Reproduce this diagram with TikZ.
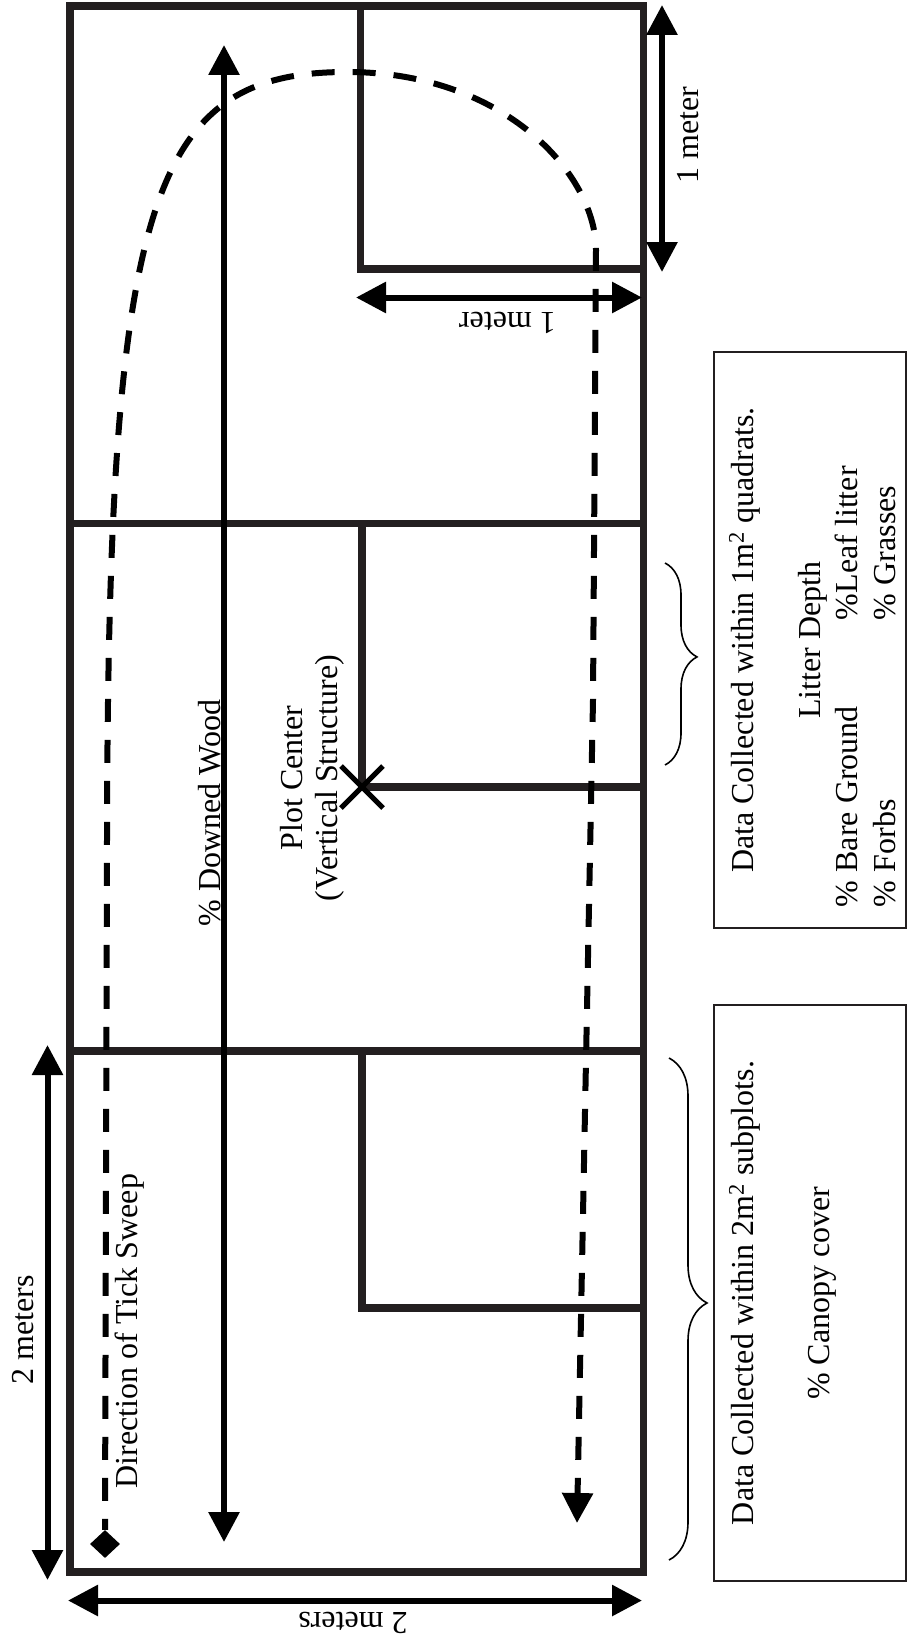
\documentclass[tikz,border=0pt]{standalone}
\usepackage{fontspec}
\setmainfont{Liberation Serif}
\usepackage{tikz}
\usetikzlibrary{arrows.meta,shapes.geometric,shapes.misc,decorations.pathreplacing}
\definecolor{plotink}{RGB}{35,31,32}
\tikzstyle{frameline}=[
  draw=plotink, line width=7.5pt, line join=miter
]
\tikzstyle{dimarrow}=[
  {Triangle[length=30pt,width=30pt]}-{Triangle[length=30pt,width=30pt]}, line width=6pt
]
\tikzstyle{sweepline}=[
  -{Triangle[length=30pt,width=30pt]}, line width=6pt, dash pattern=on 23pt off 18pt, dash phase=12pt
]
\tikzstyle{vlabel}=[
  rotate=90, inner sep=0pt
]
\tikzstyle{flabel}=[
  rotate=180, inner sep=0pt
]
\tikzstyle{infobox}=[
  draw=plotink, line width=2pt, rotate=90, inner sep=0pt, minimum width=576pt, text height=39pt, text depth=153pt
]
\tikzstyle{databrace}=[
  decorate, line width=1.6pt
]

\begin{document}
\begin{tikzpicture}[x=1pt, y=-1pt, font=\fontsize{32pt}{37.5pt}\selectfont]
    \useasboundingbox (0,0) rectangle (908,1648);

    %Plot
    \draw[frameline] (70,6) rectangle (643.5,1572);
    \draw[frameline] (70,523.5) -- (643.5,523.5);
    \draw[frameline] (70,1051) -- (643.5,1051);
    \draw[frameline] (360.5,6) |- (643.5,269);
    \draw[frameline] (362,523.5) |- (643.5,787);
    \draw[frameline] (362,1051) |- (643.5,1308);

    %Nodes
    \node[diamond, fill, inner sep=0pt, minimum width=30pt, minimum height=28pt] (sweepstart) at (105,1544) {};
    \node[cross out, draw, line width=5pt, inner sep=0pt, minimum size=37pt] (plotcenter) at (362,787) {};
    \node[vlabel, anchor=base]              (woodlabel)   at (220,813)  {\% Downed Wood};
    \node[vlabel, align=center, font=\fontsize{32pt}{35pt}\selectfont]
                                            (centerlabel) at (312,778)  {Plot Center\\(Vertical Structure)};
    \node[vlabel, anchor=base]              (sweeplabel)  at (137,1331) {Direction of Tick Sweep};
    \node[vlabel, anchor=base]              (sidelabel)   at (33,1330)  {2 meters};
    \node[flabel, anchor=base]              (baselabel)   at (353,1612) {2 meters};
    \node[vlabel, anchor=base]              (quadlabel)   at (698,135)  {1 meter};
    \node[flabel, anchor=base]              (widthlabel)  at (507.5,312) {1 meter};

    \node[infobox] (quadratbox) at (810,640) {\begin{tabular}[t]{@{\hspace{21pt}}p{287pt}@{}p{268pt}@{}}
      \multicolumn{2}{@{}c@{}}{Data Collected within 1m\textsuperscript{2} quadrats.}\\[29.5pt]
      \multicolumn{2}{@{}c@{}}{Litter Depth}\\
      \% Bare Ground & \%Leaf litter\\
      \% Forbs & \% Grasses
    \end{tabular}};
    \node[infobox] (subplotbox) at (810,1293) {\begin{tabular}[t]{@{}c@{}}
      Data Collected within 2m\textsuperscript{2} subplots.\\[38.5pt]
      \% Canopy cover
    \end{tabular}};

    %Coordinates
    \coordinate (woodtop)     at (224,45);
    \coordinate (woodbottom)  at (224,1542);
    \coordinate (quadtop)     at (662,5);
    \coordinate (quadbottom)  at (662,272);
    \coordinate (widthleft)   at (356,297.5);
    \coordinate (widthright)  at (642,297.5);
    \coordinate (baseleft)    at (68,1600.5);
    \coordinate (baseright)   at (642,1600.5);
    \coordinate (sidetop)     at (47.5,1045);
    \coordinate (sidebottom)  at (47.5,1580);
    \coordinate (sweeptop)    at (347,72);
    \coordinate (sweepend)    at (577,1523);

    %Lines
    \draw[dimarrow] (woodtop) -- (woodbottom);
    \draw[dimarrow] (quadtop) -- (quadbottom);
    \draw[dimarrow] (widthleft) -- (widthright);
    \draw[dimarrow] (baseleft) -- (baseright);
    \draw[dimarrow] (sidetop) -- (sidebottom);
    \draw[sweepline] (sweepstart.north) -- (107,840) .. controls (108,200) and (150,72) .. (sweeptop)
      .. controls (505,72) and (596,175) .. (596,250) -- (593,700) -- (sweepend);

    %Braces
    \draw[databrace, decoration={brace, amplitude=32pt, aspect=0.465}] (665,563) -- (665,765);
    \draw[databrace, decoration={brace, amplitude=38pt, aspect=0.488}] (669,1058) -- (669,1560);
\end{tikzpicture}
\end{document}
